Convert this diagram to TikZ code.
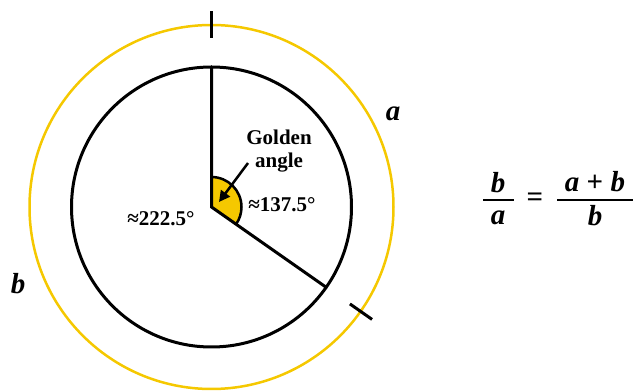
\documentclass[tikz,border=0pt]{standalone}
\usepackage{fontspec}
\setmainfont{LiberationSerif}[Extension=.ttf, UprightFont=*-Regular, BoldFont=*-Bold, ItalicFont=*-Italic, BoldItalicFont=*-BoldItalic]
\usetikzlibrary{arrows.meta,calc}
\definecolor{gold}{RGB}{245,200,0}
\begin{document}
\begin{tikzpicture}[x=1pt,y=1pt,
  lbl/.style={font=\fontsize{21}{23}\selectfont\bfseries, inner sep=0pt, align=center},
  var/.style={font=\fontsize{29}{30}\selectfont\bfseries\itshape, inner sep=0pt},
  eqn/.style={font=\fontsize{29}{30}\selectfont\bfseries, inner sep=0pt},
  blk/.style={line width=3pt, black},
  tick/.style={line width=3pt, black},
  fbar/.style={line width=2.7pt, black}]
\useasboundingbox (0,0) rectangle (633,391);
\coordinate (c) at (211.5,184);
% outer golden circle
\draw[gold, line width=2.5pt] (c) circle[radius=182];
% inner circle
\draw[blk] (c) circle[radius=140];
% wedge
\fill[gold] (c) -- ++(90:30) arc[start angle=90, end angle=-35, radius=30] -- cycle;
\draw[line width=2.5pt] ($(c)+(90:30)$) arc[start angle=90, end angle=-35, radius=30];
% radii
\coordinate (top) at ($(c)+(90:140)$);
\coordinate (rim) at ($(c)+(-35:140)$);
\draw[blk, line cap=round] (top) -- (c) -- (rim);
% ticks on outer circle
\coordinate (t1a) at ($(c)+(90:169)$);
\coordinate (t1b) at ($(c)+(90:196)$);
\coordinate (t2a) at ($(c)+(-35:169)$);
\coordinate (t2b) at ($(c)+(-35:196)$);
\draw[tick] (t1a) -- (t1b);
\draw[tick] (t2a) -- (t2b);
% labels
\node[lbl] (golden) at (279,240) {Golden\\angle};
\coordinate (as) at (248,228);
\coordinate (ae) at (219,189);
\draw[line width=2.5pt, -{Triangle[length=11pt,width=11pt]}] (as) -- (ae);
\node[lbl] (small) at (282,186) {≈137.5°};
\node[lbl] (large) at (161,172) {≈222.5°};
\node[var] (la) at (393,277) {a};
\node[var] (lb) at (18,107) {b};
% equation
\node[var] (n1) at (498,208) {b};
\coordinate (b1l) at (483,191);
\coordinate (b1r) at (514,191);
\draw[fbar] (b1l) -- (b1r);
\node[var] (d1) at (498,173) {a};
\node[eqn] (eq) at (535,191) {=};
\node[var] (n2) at (595,209) {a \textup{+} b};
\coordinate (b2l) at (557,191);
\coordinate (b2r) at (633,191);
\draw[fbar] (b2l) -- (b2r);
\node[var] (d2) at (595,175) {b};
\end{tikzpicture}
\end{document}
